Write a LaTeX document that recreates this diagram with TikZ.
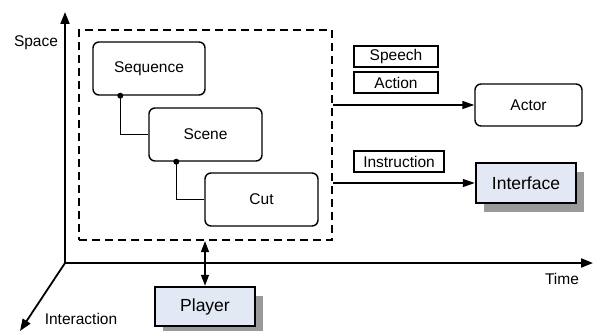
\documentclass[tikz,border=0pt]{standalone}
\usepackage{fontspec}
\setmainfont{Liberation Sans}
\usetikzlibrary{arrows.meta,shadows,calc}
\definecolor{boxblue}{HTML}{E2E8F4}
\definecolor{shadowgray}{HTML}{9A9A9A}
\begin{document}
\begin{tikzpicture}[x=1pt,y=-1pt,
  txt/.style={font=\fontsize{15.5}{18}\selectfont},
  rbox/.style={draw,line width=1.4pt,rounded corners=6pt,inner sep=0pt,txt},
  lbl/.style={draw,line width=1.4pt,inner sep=0pt,minimum width=84pt,minimum height=21pt,txt},
  bluebox/.style={draw,line width=2.5pt,fill=boxblue,inner sep=0pt,font=\fontsize{17.5}{20}\selectfont,
     drop shadow={shadow xshift=8pt,shadow yshift=-9pt,fill=shadowgray,opacity=1}},
  conn/.style={line width=1.4pt},
  arr/.style={line width=1.4pt,-{Triangle[length=12pt,width=8pt]}},
  axis/.style={line width=1.8pt,-{Triangle[length=12pt,width=9pt]}},
  dot/.style={circle,fill,inner sep=0pt,minimum size=6pt}
]
\useasboundingbox (0,0) rectangle (593,331);
% axes
\coordinate (O) at (65,263);
\coordinate (ytop) at (65,12);
\coordinate (xend) at (593,263);
\coordinate (zend) at (20,331);
\draw[axis] (O) -- (ytop);
\draw[axis] (O) -- (xend);
\draw[axis] (O) -- (zend);
\node[txt] (space) at (36,43) {Space};
\node[txt] (time) at (562,279) {Time};
\node[txt] (inter) at (81,319) {Interaction};
% dashed frame
\node[draw,line width=2.2pt,dash pattern=on 8pt off 5pt,minimum width=253pt,minimum height=210pt,inner sep=0pt] (frame) at (205.5,135) {};
% hierarchy
\node[rbox,minimum width=112pt,minimum height=53pt] (seq) at (149,68.5) {Sequence};
\node[rbox,minimum width=113pt,minimum height=53pt] (scene) at (205.5,134.5) {Scene};
\node[rbox,minimum width=113pt,minimum height=53pt] (cut) at (261.5,199.5) {Cut};
\draw[conn] ([xshift=28pt]seq.south west) |- (scene.west);
\node[dot] (d1) at ([xshift=28pt]seq.south west) {};
\draw[conn] ([xshift=28pt]scene.south west) |- (cut.west);
\node[dot] (d2) at ([xshift=28pt]scene.south west) {};
% labels
\node[lbl] (speech) at (396,56.5) {Speech};
\node[lbl] (action) at (396,82.5) {Action};
\node[lbl,minimum width=90pt] (instr) at (399,161.5) {Instruction};
% targets
\node[rbox,minimum width=107pt,minimum height=42pt] (actor) at (528.5,105) {Actor};
\node[bluebox,minimum width=100pt,minimum height=40pt] (iface) at (526,183) {Interface};
\node[bluebox,minimum width=100pt,minimum height=39pt] (player) at (205,306.5) {Player};
% arrows
\draw[arr] (frame.east |- actor.west) -- (actor.west);
\draw[arr] (frame.east |- iface.west) -- (iface.west);
\draw[line width=1.4pt,{Triangle[length=11pt,width=8pt]}-{Triangle[length=11pt,width=8pt]}] (frame.south -| player.north) -- (player.north);
\end{tikzpicture}
\end{document}
